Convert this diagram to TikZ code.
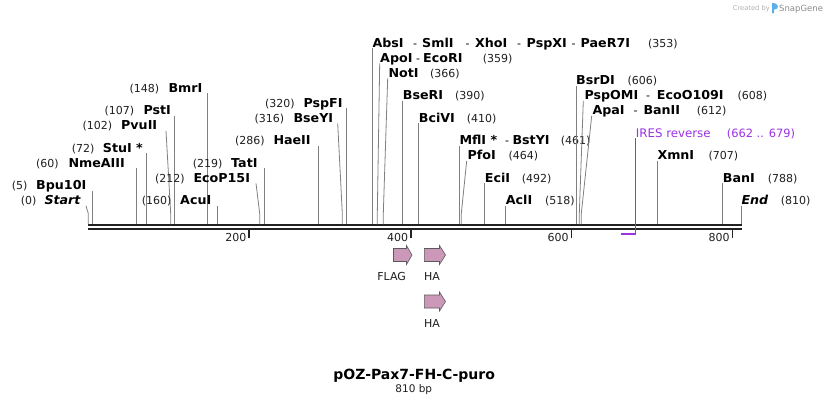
\documentclass[tikz,border=0pt]{standalone}
\usepackage{fontspec}
\setmainfont{DejaVu Sans}
\newfontfamily\bfn[FakeStretch=1.03]{DejaVu Sans Bold}
\newfontfamily\bfit[FakeStretch=1.03]{DejaVu Sans Bold Oblique}
\newfontfamily\bfplain{DejaVu Sans Bold}
\definecolor{bbcol}{RGB}{34,34,34}
\definecolor{linecol}{RGB}{128,128,128}
\definecolor{irescol}{RGB}{155,50,230}
\definecolor{featfill}{RGB}{204,152,186}
\definecolor{featline}{RGB}{90,90,90}
\definecolor{logoblue}{RGB}{90,175,235}
\tikzset{
  num/.style={anchor=base west, inner sep=0pt, font=\fontsize{11}{12}\selectfont, text=black!88},
  nm/.style={anchor=base west, inner sep=0pt, font=\bfn\fontsize{12.3}{13}\selectfont, text=black},
  cutline/.style={draw=linecol, line width=0.8pt},
  ticklbl/.style={anchor=base east, inner sep=0pt, font=\fontsize{11}{12}\selectfont, text=black!88},
  featlbl/.style={anchor=base, inner sep=0pt, font=\fontsize{11}{12}\selectfont, text=black!88},
  featshape/.style={fill=featfill, draw=featline, line width=0.6pt, line join=miter},
}
\newcommand\dsh{{\rmfamily\fontsize{11}{12}\selectfont -}}
\newcommand\cutsite[8]{%
  \node[num] (#1n) at ({#3},{#2+4.6}) {#4};
  \node[nm] (#1l) at ({#5},{#2+4.6}) {#6};
  \coordinate (#1t) at ({#7},{#2+5.8});
  \coordinate (#1b) at ({#8},213.5);
  \coordinate (#1s) at ({#8},224.3);
  \draw[cutline] (#1t) -- (#1b) -- (#1s);
}
\newcommand\featarrow[4]{% x0, xh, xt, ytop
  \fill[featshape] ({#1},{#4+3}) -- ({#2},{#4+3}) -- ({#2},{#4}) -- ({#3},{#4+9.5})
    -- ({#2},{#4+19}) -- ({#2},{#4+16}) -- ({#1},{#4+16}) -- cycle;
}
\begin{document}
\begin{tikzpicture}[x=1pt,y=-1pt]
\useasboundingbox (0,0) rectangle (830,405);
\fill[white] (0,0) rectangle (830,405);

% backbone
\fill[bbcol] (88,224.3) rectangle (741.8,226.4);
\fill[bbcol] (88,227.6) rectangle (741.8,230.3);

% ticks
\foreach \tx/\tl [count=\i] in {249/200, 410.8/400, 571.2/600, 732.2/800} {
  \fill[bbcol] (\tx-0.7,230) rectangle (\tx+0.7,237.7);
  \node[ticklbl] (tick\i) at (\tx-2.5,241.7) {\tl};
}

% left-side labels
\cutsite{start}{200}{20.7}{(0)}{44.3}{\bfit Start}{86}{88.3}
\cutsite{bpu}{185}{11.7}{(5)}{36}{Bpu10I}{92.3}{92.3}
\cutsite{nme}{162.5}{36}{(60)}{68.3}{NmeAIII}{136.7}{136.7}
\cutsite{stu}{147.5}{71.7}{(72)}{102.7}{StuI *}{146.7}{146.7}
\cutsite{pvu}{125}{82.3}{(102)}{121}{PvuII}{166}{170.7}
\cutsite{pst}{110}{104.3}{(107)}{143.3}{PstI}{174.3}{174.3}
\cutsite{bmr}{87.5}{129.3}{(148)}{168.3}{BmrI}{207.7}{207.7}
\cutsite{acu}{200}{141.7}{(160)}{180}{AcuI}{217.3}{217.3}
\cutsite{ecop}{177.5}{155}{(212)}{193.3}{EcoP15I}{256}{259.7}
\cutsite{tat}{162.5}{192.7}{(219)}{231}{TatI}{264.3}{264.3}
\cutsite{hae}{140}{235}{(286)}{273.3}{HaeII}{318.7}{318.7}
\cutsite{bsey}{117.5}{254.5}{(316)}{293.3}{BseYI}{337.7}{342.3}
\cutsite{pspf}{102.5}{265}{(320)}{303.3}{PspFI}{346.3}{346.3}

% right-side labels
\cutsite{abs}{42.5}{648}{(353)}{372.3}{\makebox[40.7pt][l]{AbsI}\makebox[9pt][l]{\dsh}\makebox[43.5pt][l]{SmlI}\makebox[9.5pt][l]{\dsh}\makebox[42pt][l]{XhoI}\makebox[9.5pt][l]{\dsh}\makebox[45pt][l]{PspXI}\makebox[9pt][l]{\dsh}PaeR7I}{372.3}{372.3}
\cutsite{apo}{57.5}{482.7}{(359)}{380}{\makebox[36pt][l]{ApoI}\makebox[7pt][l]{\dsh}EcoRI}{379.7}{377.3}
\cutsite{not}{72.5}{430}{(366)}{388.3}{NotI}{387.7}{383.3}
\cutsite{bser}{95}{455}{(390)}{402.7}{BseRI}{402.7}{402.7}
\cutsite{bci}{117.5}{466.7}{(410)}{418.7}{BciVI}{418.7}{418.7}
\cutsite{mfl}{140}{560.7}{(461)}{459.3}{\makebox[45.5pt][l]{MflI *}\makebox[7.5pt][l]{\dsh}BstYI}{459.3}{459.3}
\cutsite{pfo}{155}{508.3}{(464)}{467.3}{PfoI}{466.7}{461.3}
\cutsite{eci}{177.5}{521.7}{(492)}{484.7}{EciI}{484.7}{484.7}
\cutsite{acl}{200}{545}{(518)}{505.7}{AclI}{505.7}{505.7}
\cutsite{bsrd}{80}{627.3}{(606)}{576}{BsrDI}{576.7}{576.7}
\cutsite{pspo}{95}{737.3}{(608)}{584.3}{\makebox[61.7pt][l]{PspOMI}\makebox[10.7pt][l]{\dsh}EcoO109I}{583.3}{579.3}
\cutsite{apa}{110}{696.7}{(612)}{592.3}{\makebox[41.2pt][l]{ApaI}\makebox[9.8pt][l]{\dsh}BanII}{591.7}{581.3}
\cutsite{xmn}{155}{708.3}{(707)}{657.3}{XmnI}{657.3}{657.3}
\cutsite{ban}{177.5}{767.7}{(788)}{722.7}{BanI}{722.7}{722.7}
\cutsite{end}{200}{780.7}{(810)}{741.3}{\bfit End}{741.3}{741.3}

% IRES reverse primer
\node[num, text=irescol, font=\fontsize{11.8}{13}\selectfont] (iresl) at (635.7,137.1) {IRES reverse};
\node[num, text=irescol, font=\fontsize{11.4}{13}\selectfont] (iresn) at (726.7,137.1) {(662 .. 679)};
\coordinate (irest) at (635.7,138.3);
\coordinate (iresb) at (635.7,234.6);
\draw[irescol, line width=1pt] (irest) -- (iresb);
\fill[irescol] (621,232.8) rectangle (635.7,234.6);

% features
\featarrow{393.5}{406.5}{412}{245.5}
\node[featlbl] (flagl) at (391.7,280.5) {FLAG};
\featarrow{424.3}{439.5}{445.5}{245.5}
\node[featlbl] (ha1l) at (432,280.5) {HA};
\featarrow{424.3}{439.5}{445.5}{292}
\node[featlbl] (ha2l) at (432,327) {HA};

% title
\node[anchor=base, inner sep=0pt, font=\bfplain\fontsize{14}{16}\selectfont] (title) at (414.2,379) {pOZ-Pax7-FH-C-puro};
\node[anchor=base, inner sep=0pt, font=\fontsize{10.5}{12}\selectfont, text=black!88] (bp) at (413.8,392) {810 bp};

% logo
\node[anchor=base west, inner sep=0pt, font=\fontsize{6.7}{8}\selectfont, text=black!30] (created) at (732.7,10.3) {Created by};
\fill[logoblue] (772,13) -- (772,3) .. controls (775.5,3) and (778,4.5) .. (778,6.5) .. controls (778,8.5) and (776,9.5) .. (774.2,9.5) -- (774.2,13) -- cycle;
\node[anchor=base west, inner sep=0pt, font=\fontsize{8.5}{10}\selectfont, text=black!45] (snapgene) at (779,11) {SnapGene};
\end{tikzpicture}
\end{document}
